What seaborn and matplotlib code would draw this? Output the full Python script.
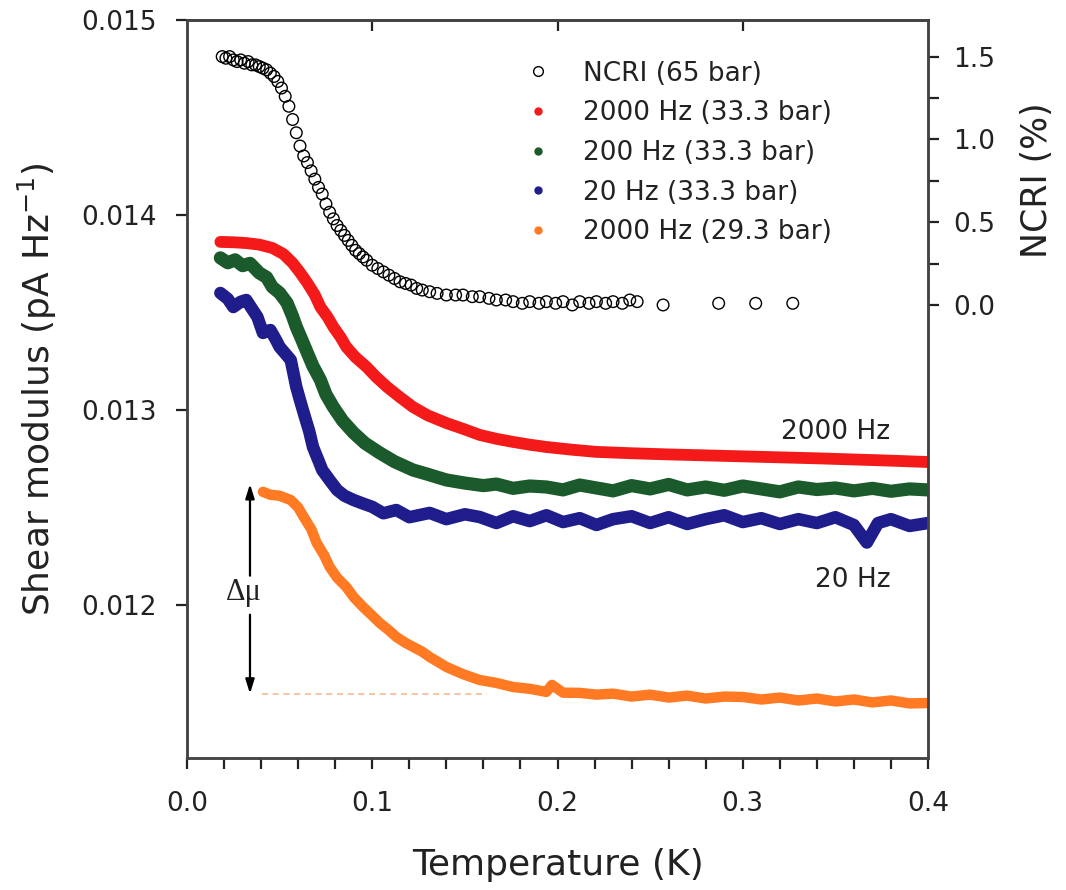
import matplotlib
matplotlib.use("Agg")
import matplotlib.pyplot as plt
from matplotlib.lines import Line2D
from matplotlib.ticker import MultipleLocator, FixedLocator
import seaborn as sns
import pandas as pd

# values
red_T = [0.018, 0.025, 0.032, 0.039, 0.046, 0.052, 0.057, 0.061, 0.065, 0.069, 0.072, 0.076,
         0.079, 0.083, 0.086, 0.091, 0.097, 0.102, 0.108, 0.115, 0.122, 0.130, 0.140, 0.150,
         0.158, 0.167, 0.176, 0.185, 0.194, 0.208, 0.221, 0.24, 0.26, 0.28, 0.30, 0.32, 0.34,
         0.36, 0.38, 0.40]
red_mu = [0.013862, 0.013860, 0.013856, 0.013848, 0.013831, 0.013800, 0.013754, 0.013705,
          0.013651, 0.013590, 0.013528, 0.013475, 0.013426, 0.013372, 0.013323, 0.013270,
          0.013220, 0.013170, 0.013118, 0.013065, 0.013015, 0.012972, 0.012933, 0.012900,
          0.012872, 0.012852, 0.012836, 0.012822, 0.012810, 0.012796, 0.012785, 0.012778,
          0.012772, 0.012767, 0.012762, 0.012757, 0.012752, 0.012746, 0.012740, 0.012733]

green_T = [0.018, 0.022, 0.026, 0.030, 0.034, 0.039, 0.043, 0.046, 0.050, 0.054, 0.057, 0.059,
           0.062, 0.065, 0.068, 0.072, 0.075, 0.079, 0.084, 0.090, 0.096, 0.104, 0.112, 0.122,
           0.130, 0.140, 0.150, 0.160, 0.167, 0.176, 0.185, 0.194, 0.203, 0.212, 0.221, 0.230,
           0.240, 0.250, 0.260, 0.270, 0.280, 0.290, 0.300, 0.310, 0.320, 0.330, 0.340, 0.350,
           0.360, 0.370, 0.380, 0.390, 0.400]
green_mu = [0.013780, 0.013755, 0.013770, 0.013740, 0.013752, 0.013703, 0.013680, 0.013631,
            0.013600, 0.013549, 0.013480, 0.013426, 0.013360, 0.013292, 0.013225, 0.013154,
            0.013080, 0.013015, 0.012945, 0.012882, 0.012830, 0.012780, 0.012735, 0.012692,
            0.012670, 0.012641, 0.012625, 0.012612, 0.012620, 0.012598, 0.012610, 0.012605,
            0.012590, 0.012615, 0.012600, 0.012585, 0.012612, 0.012595, 0.012618, 0.012590,
            0.012605, 0.012588, 0.012610, 0.012595, 0.012580, 0.012605, 0.012592, 0.012600,
            0.012585, 0.012598, 0.012583, 0.012595, 0.012590]

blue_T = [0.018, 0.022, 0.025, 0.029, 0.032, 0.035, 0.038, 0.041, 0.045, 0.048, 0.050, 0.053,
          0.056, 0.059, 0.061, 0.063, 0.066, 0.068, 0.071, 0.073, 0.077, 0.081, 0.085, 0.090,
          0.095, 0.100, 0.106, 0.113, 0.120, 0.131, 0.140, 0.150, 0.158, 0.167, 0.176, 0.185,
          0.194, 0.203, 0.212, 0.221, 0.230, 0.240, 0.250, 0.260, 0.270, 0.280, 0.290, 0.300,
          0.310, 0.320, 0.330, 0.340, 0.350, 0.360, 0.367, 0.373, 0.380, 0.390, 0.400]
blue_mu = [0.013600, 0.013570, 0.013528, 0.013555, 0.013564, 0.013520, 0.013477, 0.013395,
           0.013410, 0.013360, 0.013323, 0.013290, 0.013256, 0.013118, 0.013050, 0.012985,
           0.012890, 0.012810, 0.012740, 0.012692, 0.012640, 0.012590, 0.012560, 0.012538,
           0.012520, 0.012503, 0.012470, 0.012487, 0.012450, 0.012472, 0.012440, 0.012465,
           0.012451, 0.012420, 0.012455, 0.012430, 0.012460, 0.012425, 0.012445, 0.012410,
           0.012440, 0.012455, 0.012420, 0.012450, 0.012415, 0.012440, 0.012460, 0.012425,
           0.012445, 0.012415, 0.012440, 0.012420, 0.012450, 0.012410, 0.012320, 0.012420,
           0.012440, 0.012405, 0.012420]

orange_T = [0.041, 0.045, 0.050, 0.056, 0.060, 0.063, 0.067, 0.070, 0.074, 0.077, 0.081, 0.086,
            0.090, 0.095, 0.100, 0.104, 0.109, 0.113, 0.118, 0.122, 0.127, 0.131, 0.136, 0.140,
            0.149, 0.158, 0.167, 0.176, 0.185, 0.194, 0.197, 0.203, 0.212, 0.221, 0.230, 0.240,
            0.250, 0.260, 0.270, 0.280, 0.290, 0.300, 0.310, 0.320, 0.330, 0.340, 0.350, 0.360,
            0.370, 0.380, 0.390, 0.400]
orange_mu = [0.012580, 0.012565, 0.012560, 0.012538, 0.012500, 0.012451, 0.012390, 0.012318,
             0.012255, 0.012195, 0.012140, 0.012092, 0.012040, 0.011990, 0.011945, 0.011908,
             0.011870, 0.011836, 0.011805, 0.011785, 0.011760, 0.011733, 0.011705, 0.011682,
             0.011645, 0.011615, 0.011600, 0.011579, 0.011570, 0.011554, 0.011590, 0.011550,
             0.011549, 0.011540, 0.011545, 0.011530, 0.011540, 0.011525, 0.011535, 0.011520,
             0.011530, 0.011528, 0.011515, 0.011525, 0.011510, 0.011520, 0.011505, 0.011515,
             0.011500, 0.011510, 0.011495, 0.011497]

ncri_T = [0.019, 0.021, 0.023, 0.025, 0.027, 0.029, 0.031, 0.033, 0.035, 0.037,
          0.039, 0.041, 0.043, 0.045, 0.047, 0.049, 0.051, 0.053, 0.055, 0.057,
          0.059, 0.061, 0.063, 0.065, 0.067, 0.069, 0.071, 0.073, 0.075, 0.077,
          0.079, 0.081, 0.083, 0.085, 0.087, 0.089, 0.091, 0.093, 0.095, 0.097,
          0.100, 0.103, 0.106, 0.109, 0.112, 0.115, 0.118, 0.121, 0.124, 0.127,
          0.131, 0.135, 0.140, 0.145, 0.149, 0.154, 0.158, 0.163, 0.167, 0.172,
          0.176, 0.181, 0.185, 0.190, 0.194, 0.199, 0.203, 0.208, 0.212, 0.217,
          0.221, 0.226, 0.230, 0.235, 0.239, 0.243, 0.257, 0.287, 0.307, 0.327]
ncri_pct = [1.50, 1.49, 1.50, 1.48, 1.47, 1.48, 1.46, 1.47, 1.45, 1.45,
            1.44, 1.43, 1.42, 1.40, 1.38, 1.35, 1.31, 1.26, 1.20, 1.12,
            1.04, 0.96, 0.90, 0.86, 0.81, 0.76, 0.71, 0.67, 0.61, 0.56,
            0.52, 0.48, 0.45, 0.42, 0.39, 0.36, 0.33, 0.31, 0.29, 0.27,
            0.24, 0.22, 0.20, 0.18, 0.16, 0.14, 0.13, 0.12, 0.10, 0.09,
            0.08, 0.07, 0.06, 0.06, 0.06, 0.05, 0.05, 0.04, 0.03, 0.03,
            0.02, 0.01, 0.02, 0.01, 0.02, 0.01, 0.02, 0.00, 0.02, 0.01,
            0.02, 0.01, 0.02, 0.01, 0.03, 0.02, 0.00, 0.01, 0.01, 0.01]

legend_labels = ['NCRI (65 bar)', '2000 Hz (33.3 bar)', '200 Hz (33.3 bar)',
                 '20 Hz (33.3 bar)', '2000 Hz (29.3 bar)']

# delta-mu guide: baseline of the 29.3 bar curve and plateau top
dash_T = [0.0405, 0.162]
mu_low = 0.011545
mu_high = 0.01262
arrow_T = 0.034

red = '#F41A1A'
green = '#1B5A2B'
blue = '#1F1D8C'
orange = '#FF7A22'
ink = '#222222'

sns.set_theme(style="ticks")
plt.rcParams['font.family'] = ['DejaVu Sans']

fig = plt.figure(figsize=(10.66, 8.9), dpi=100)
ax = fig.add_axes([187 / 1066, 1 - 758 / 890, 741 / 1066, 738 / 890])

series = [(red_T, red_mu, red, 8.5), (green_T, green_mu, green, 9.5),
          (blue_T, blue_mu, blue, 9), (orange_T, orange_mu, orange, 7.5)]
for T, mu, col, lw in series:
    df = pd.DataFrame({'T': T, 'mu': mu})
    sns.lineplot(data=df, x='T', y='mu', ax=ax, color=col, linewidth=lw,
                 estimator=None, sort=False, legend=False,
                 solid_capstyle='round', solid_joinstyle='round')

ax.plot(dash_T, [mu_low, mu_low], ls=(0, (4, 3)), color='#F3B48A', lw=1.1)

head = dict(arrowstyle='-|>,head_length=0.7,head_width=0.22', color='black', lw=1.6,
            shrinkA=0, shrinkB=0)
ax.annotate('', xy=(arrow_T, mu_high), xytext=(arrow_T, 0.012150), arrowprops=head)
ax.annotate('', xy=(arrow_T, mu_low), xytext=(arrow_T, 0.011950), arrowprops=head)
ax.text(0.0308, 0.012062, 'Δμ', fontsize=22, ha='center', va='center',
        family=['Liberation Serif', 'DejaVu Serif'], color=ink)

ax.text(0.350, 0.012887, '2000 Hz', fontsize=19, ha='center', va='center', color=ink)
ax.text(0.3595, 0.012128, '20 Hz', fontsize=19, ha='center', va='center', color=ink)

ax.set_xlim(0, 0.4)
ax.set_ylim(0.011215, 0.015)
ax.set_xlabel('Temperature (K)', fontsize=26, labelpad=22, color=ink)
ax.set_ylabel(r'Shear modulus (pA Hz$^{-1}$)', fontsize=26, labelpad=16, color=ink)
ax.xaxis.set_minor_locator(MultipleLocator(0.02))
ax.set_xticks([0.0, 0.1, 0.2, 0.3, 0.4])
ax.set_xticklabels(['0.0', '0.1', '0.2', '0.3', '0.4'])
ax.set_yticks([0.012, 0.013, 0.014, 0.015])
ax.set_yticklabels(['0.012', '0.013', '0.014', '0.015'])
ax.tick_params(axis='both', which='major', labelsize=19, direction='out', length=8,
               width=1.6, color=ink, labelcolor=ink)
ax.tick_params(axis='y', which='major', pad=14)
ax.tick_params(axis='x', which='major', pad=16)
ax.tick_params(axis='x', which='minor', direction='out', length=8, width=1.6, color=ink)
ax.tick_params(axis='y', which='minor', length=0)

top = ax.secondary_xaxis('top')
top.set_xticks([0.1, 0.2, 0.3])
top.tick_params(direction='in', length=8, width=1.6, labeltop=False, color=ink)
top.spines['top'].set_linewidth(1.8)
top.spines['top'].set_color('#444444')

ax2 = ax.twinx()
ncri = pd.DataFrame({'T': ncri_T, 'pct': ncri_pct})
sns.scatterplot(data=ncri, x='T', y='pct', ax=ax2, marker='o', s=70,
                facecolors='none', edgecolors='black', linewidth=1.0, legend=False)
ax2.set_ylim(-2.736, 1.721)
ax2.set_yticks([0.0, 0.5, 1.0, 1.5])
ax2.set_yticklabels(['0.0', '0.5', '1.0', '1.5'])
ax2.yaxis.set_minor_locator(FixedLocator([0.25, 0.75, 1.25]))
ax2.tick_params(axis='y', which='major', labelsize=19, direction='out', length=8,
                width=1.6, color=ink, labelcolor=ink, pad=10)
ax2.tick_params(axis='y', which='minor', direction='out', length=8, width=1.6, color=ink)
ax2.set_ylabel('NCRI (%)', fontsize=25, color=ink)
ax2.yaxis.set_label_coords((1020 - 187) / 741, (758 - 180) / 738)
ax2.set_xlabel('')

for a in (ax, ax2):
    for s in a.spines.values():
        s.set_linewidth(1.8)
        s.set_color('#444444')
        s.set_visible(True)

handles = [Line2D([], [], ls='', marker='o', ms=7, mfc='none', mec='black', mew=1.0)]
for col in (red, green, blue, orange):
    handles.append(Line2D([], [], ls='', marker='o', ms=5, mfc=col, mec=col))
ax2.legend(handles, legend_labels, loc='upper left',
           bbox_to_anchor=((506 - 187) / 741, (758 - 50) / 738), frameon=False,
           fontsize=19, labelspacing=0.52, handletextpad=0.9, handlelength=1.6,
           borderaxespad=0, labelcolor=ink)

fig.savefig('out.png', dpi=100)
